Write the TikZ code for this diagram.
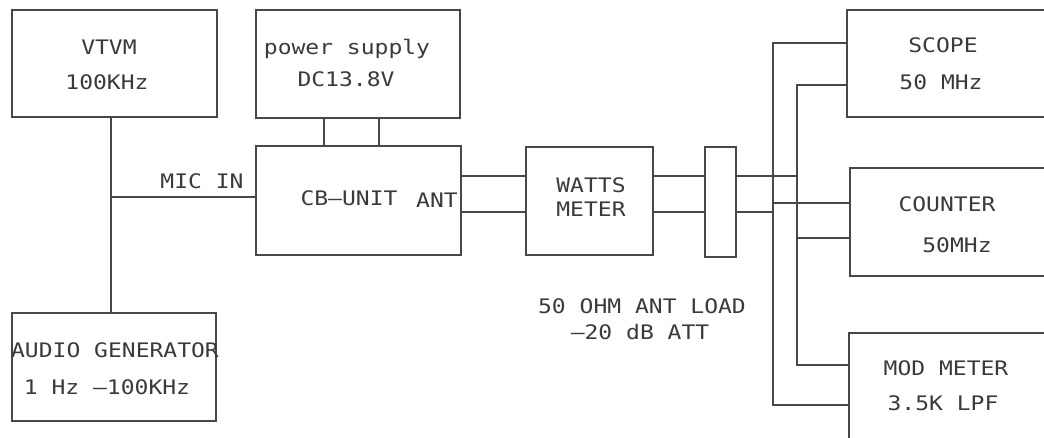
\documentclass[tikz,border=0pt]{standalone}
\usepackage{fontspec}
\newfontfamily\cad{DejaVu Sans Mono}[FakeStretch=1.15]
\usetikzlibrary{calc}
\definecolor{ink}{HTML}{484848}
\definecolor{txt}{HTML}{3A3A3A}
\begin{document}
\begin{tikzpicture}[x=1pt,y=-1pt,
  box/.style={draw=ink,line width=1.4pt,rectangle,inner sep=0pt,outer sep=0pt},
  wire/.style={draw=ink,line width=1.4pt},
  lbl/.style={anchor=base,inner sep=0pt,text=txt,font=\cad\fontsize{20}{22}\selectfont}]
\useasboundingbox (0,0) rectangle (1044,438);
\clip (0,0) rectangle (1044,438);
% boxes
\node[box,minimum width=205pt,minimum height=107pt] (vtvm) at (114.5,63.5) {};
\node[box,minimum width=204pt,minimum height=108pt] (ps) at (358,64) {};
\node[box,minimum width=205pt,minimum height=109pt] (cb) at (358.5,200.5) {};
\node[box,minimum width=204pt,minimum height=108pt] (ag) at (114,367) {};
\node[box,minimum width=127pt,minimum height=108pt] (wm) at (589.5,201) {};
\node[box,minimum width=31pt,minimum height=110pt] (att) at (720.5,202) {};
\node[box,minimum width=253pt,minimum height=107pt] (scope) at (973.5,63.5) {};
\node[box,minimum width=250pt,minimum height=108pt] (counter) at (975,222) {};
\node[box,minimum width=251pt,minimum height=117pt] (mod) at (974.5,391.5) {};
% labels
\node[lbl] (t1) at (109,55) {VTVM};
\node[lbl] (t2) at (107,90) {100KHz};
\node[lbl] (t3) at (347,55) {power supply};
\node[lbl] (t4) at (346,87) {DC13.8V};
\node[lbl] (t5) at (202,189) {MIC IN};
\node[lbl] (t6) at (349,206) {CB–UNIT};
\node[lbl] (t7) at (437,208) {ANT};
\node[lbl] (t8) at (115,357) {AUDIO GENERATOR};
\node[lbl] (t9) at (107,394) {1 Hz –100KHz};
\node[lbl] (t10) at (591,193) {WATTS};
\node[lbl] (t11) at (591,217) {METER};
\node[lbl] (t12) at (642,313) {50 OHM ANT LOAD};
\node[lbl] (t13) at (640,339) {–20 dB ATT};
\node[lbl] (t14) at (943,53) {SCOPE};
\node[lbl] (t15) at (941,90) {50 MHz};
\node[lbl] (t16) at (947,212) {COUNTER};
\node[lbl] (t17) at (957,253) {50MHz};
\node[lbl] (t18) at (946,375) {MOD METER};
\node[lbl] (t19) at (943,410) {3.5K LPF};
% junctions and levels
\coordinate (j) at (111,197);
\coordinate (ya) at (0,176);
\coordinate (yb) at (0,212);
\coordinate (b2) at (797,176);
\coordinate (b1) at (773,212);
\coordinate (s1) at (0,43);
\coordinate (s2) at (0,85);
\coordinate (c1) at (0,203);
\coordinate (c2) at (0,238);
\coordinate (m1) at (0,365);
\coordinate (m2) at (0,405);
% wires
\draw[wire] (vtvm.south -| j) -- (ag.north -| j);
\draw[wire] (j) -- (cb.west |- j);
\draw[wire] ($(ps.south west)+(68,0)$) -- ($(cb.north west)+(68,0)$);
\draw[wire] ($(ps.south west)+(123,0)$) -- ($(cb.north west)+(123,0)$);
\draw[wire] (cb.east |- ya) -- (wm.west |- ya);
\draw[wire] (cb.east |- yb) -- (wm.west |- yb);
\draw[wire] (wm.east |- ya) -- (att.west |- ya);
\draw[wire] (wm.east |- yb) -- (att.west |- yb);
\draw[wire] (att.east |- ya) -- (b2);
\draw[wire] (att.east |- yb) -- (b1);
\draw[wire] (scope.west |- s1) -| (b1) |- (mod.west |- m2);
\draw[wire] (scope.west |- s2) -| (b2) |- (mod.west |- m1);
\draw[wire] (b1 |- c1) -- (counter.west |- c1);
\draw[wire] (b2 |- c2) -- (counter.west |- c2);
\end{tikzpicture}
\end{document}
